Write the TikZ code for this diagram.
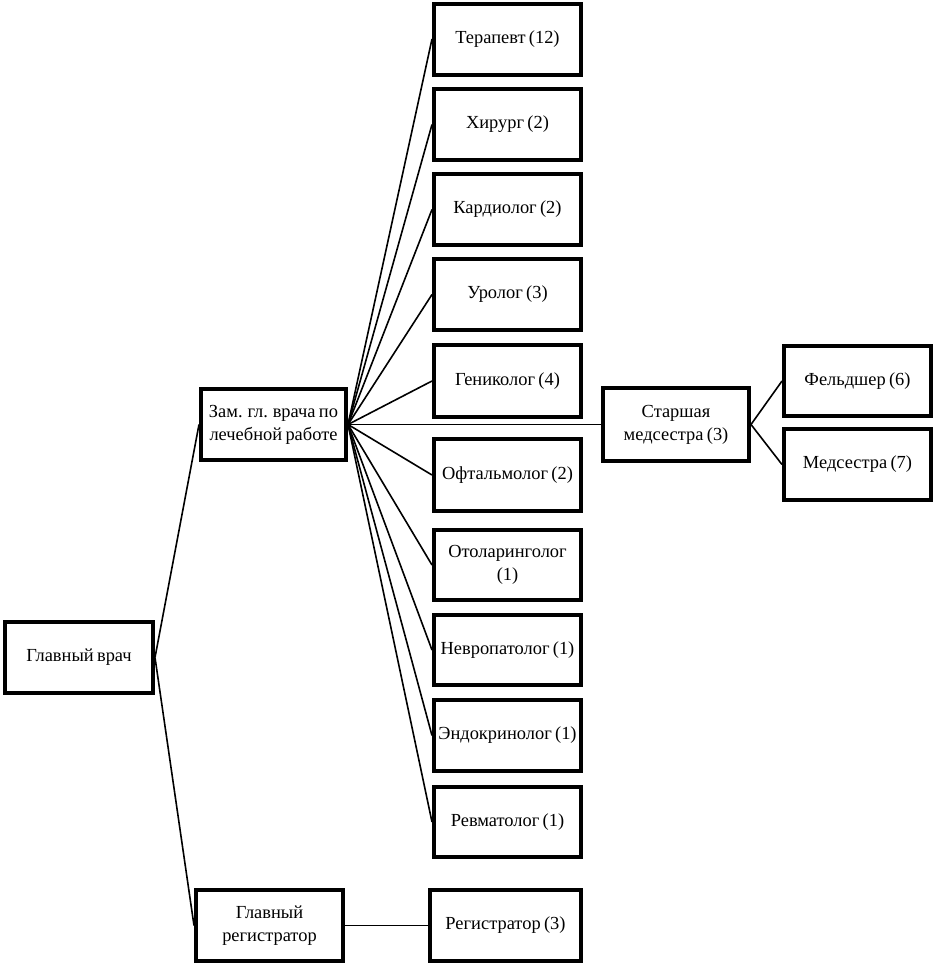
\documentclass[tikz,border=0pt]{standalone}
\usepackage{fontspec}
\setmainfont{Liberation Serif}
\newcommand\tightsp{\spaceskip=0.18em plus 0.05em\relax}
\begin{document}
\begin{tikzpicture}[x=1bp,y=-1bp,
  box/.style={draw=black,line width=4bp,rectangle,align=center,inner sep=1bp,
    font=\fontsize{18.5}{23}\selectfont\tightsp},
  conn/.style={line width=1.6bp,black}]
\useasboundingbox (0,0) rectangle (937,965);
\node[box,minimum width=148bp,minimum height=71bp] (gv) at (79,657.5) {Главный врач};
\node[box,minimum width=145bp,minimum height=71bp] (zam) at (273.5,424.5) {Зам. гл. врача по\\лечебной работе};
\node[box,minimum width=147bp,minimum height=71bp] (s1) at (507.5,39) {Терапевт (12)};
\node[box,minimum width=147bp,minimum height=71bp] (s2) at (507.5,124.5) {Хирург (2)};
\node[box,minimum width=147bp,minimum height=71bp] (s3) at (507.5,209.5) {Кардиолог (2)};
\node[box,minimum width=147bp,minimum height=71bp] (s4) at (507.5,294.5) {Уролог (3)};
\node[box,minimum width=147bp,minimum height=72bp] (s5) at (507.5,381) {Гениколог (4)};
\node[box,minimum width=147bp,minimum height=72bp] (s6) at (507.5,475) {Офтальмолог (2)};
\node[box,minimum width=147bp,minimum height=70bp] (s7) at (507.5,565) {Отоларинголог\\(1)};
\node[box,minimum width=147bp,minimum height=70bp] (s8) at (507.5,650) {Невропатолог (1)};
\node[box,minimum width=147bp,minimum height=71bp] (s9) at (507.5,735.5) {Эндокринолог (1)};
\node[box,minimum width=147bp,minimum height=70bp] (s10) at (507.5,822) {Ревматолог (1)};
\node[box,minimum width=146bp,minimum height=73bp] (sm) at (676,424.5) {Старшая\\медсестра (3)};
\node[box,minimum width=147bp,minimum height=70bp] (f) at (857.5,381) {Фельдшер (6)};
\node[box,minimum width=147bp,minimum height=71bp] (m) at (857.5,464.5) {Медсестра (7)};
\node[box,minimum width=147bp,minimum height=71bp] (gr) at (269.5,925.5) {Главный\\регистратор};
\node[box,minimum width=151bp,minimum height=71bp] (r) at (505.5,925.5) {Регистратор (3)};
\draw[conn] (gv.east) -- (zam.west);
\draw[conn] (gv.east) -- (gr.west);
\foreach \s in {s1,s2,s3,s4,s5,s6,s7,s8,s9,s10}
  \draw[conn] (zam.east) -- (\s.west);
\draw[conn] (zam.east) -- (sm.west);
\draw[conn] (sm.east) -- (f.west);
\draw[conn] (sm.east) -- (m.west);
\draw[conn] (gr.east) -- (r.west);
\end{tikzpicture}
\end{document}
